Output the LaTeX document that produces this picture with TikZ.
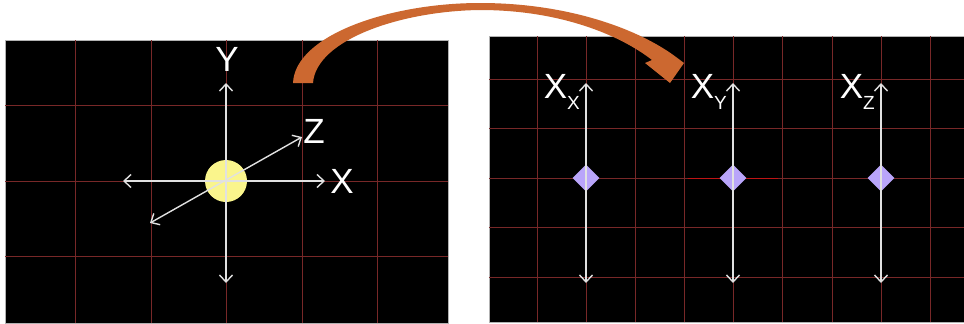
\documentclass[tikz,border=0pt]{standalone}
\usepackage{fontspec}
\setmainfont{Liberation Sans}
\usetikzlibrary{arrows.meta,shapes.geometric}
\definecolor{gridred}{RGB}{120,40,40}
\definecolor{glowred}{RGB}{190,20,20}
\definecolor{axisgray}{RGB}{225,225,225}
\definecolor{sunyellow}{RGB}{250,245,140}
\definecolor{gemblue}{RGB}{185,165,250}
\definecolor{arcorange}{RGB}{204,104,48}
\tikzset{
  panel/.style={fill=black,draw=black!30,line width=0.8pt},
  gridline/.style={gridred,line width=1.2pt},
  axis/.style={axisgray,line width=1.4pt,{Straight Barb[length=7pt,width=13pt]}-{Straight Barb[length=7pt,width=13pt]}},
  axislabel/.style={text=white,font=\fontsize{35}{35}\selectfont,inner sep=0pt},
  sublabel/.style={text=white,font=\fontsize{35}{35}\selectfont,inner sep=0pt},
  gem/.style={diamond,fill=gemblue,minimum width=27pt,minimum height=27pt,inner sep=0pt}
}
\begin{document}
\begin{tikzpicture}[x=1pt,y=-1pt]
  \useasboundingbox[fill=white] (0,0) rectangle (964,324);
  % left panel: point source with three axes
  \draw[panel] (5,40) rectangle (448,323);
  \foreach \gx in {75.5,151.5,226.5,302.5,377.5}
    \draw[gridline] (\gx,40) -- (\gx,323);
  \foreach \gy in {105.5,181.5,256.5}
    \draw[gridline] (5,\gy) -- (448,\gy);
  \node[circle,fill=sunyellow,minimum size=42pt,inner sep=0pt] (sun) at (226,181) {};
  \coordinate (ytop) at (226,83);
  \coordinate (ybot) at (226,283);
  \coordinate (xleft) at (123,181);
  \coordinate (xright) at (325,181);
  \coordinate (zfront) at (150,223);
  \coordinate (zback) at (302,137);
  \draw[axis] (ybot) -- (ytop);
  \draw[axis] (xleft) -- (xright);
  \draw[axis] (zfront) -- (zback);
  \node[axislabel] (ylab) at (227,59) {Y};
  \node[axislabel] (zlab) at (314,131) {Z};
  \node[axislabel] (xlab) at (342,181) {X};
  % right panel: one component per axis
  \draw[panel] (489,36) rectangle (966,322);
  \foreach \gx in {537.5,586.5,635.5,684.5,733.5,782.5,832.5,881.5,930.5}
    \draw[gridline] (\gx,36) -- (\gx,322);
  \foreach \gy in {79.5,128.5,178.5,227.5,277.5}
    \draw[gridline] (489,\gy) -- (964,\gy);
  \draw[glowred,line width=1.6pt] (688,178.5) -- (778,178.5);
  \draw[glowred,line width=1.6pt] (733.5,140) -- (733.5,215);
  \foreach \name/\cx/\sub in {gx/586/X,gy/733/Y,gz/881/Z}{
    \node[gem] (\name) at (\cx,178) {};
    \coordinate (\name top) at (\cx,83);
    \coordinate (\name bot) at (\cx,283);
    \draw[axis] (\name bot) -- (\name top);
    \node[sublabel,anchor=east] (\name lab) at (\cx-6,92)
      {X\raisebox{-0.3em}{\fontsize{19}{19}\selectfont\sub}};
  }
  % curved transfer arrow
  \fill[arcorange] (293,83) .. controls (295,35) and (390,3) .. (480,3)
    .. controls (570,3) and (640,30) .. (676,57)
    -- (684,63) -- (670,83) -- (645,63) -- (652,60)
    .. controls (620,35) and (560,10) .. (480,10)
    .. controls (400,11) and (316,40) .. (313,83) -- cycle;
\end{tikzpicture}
\end{document}
